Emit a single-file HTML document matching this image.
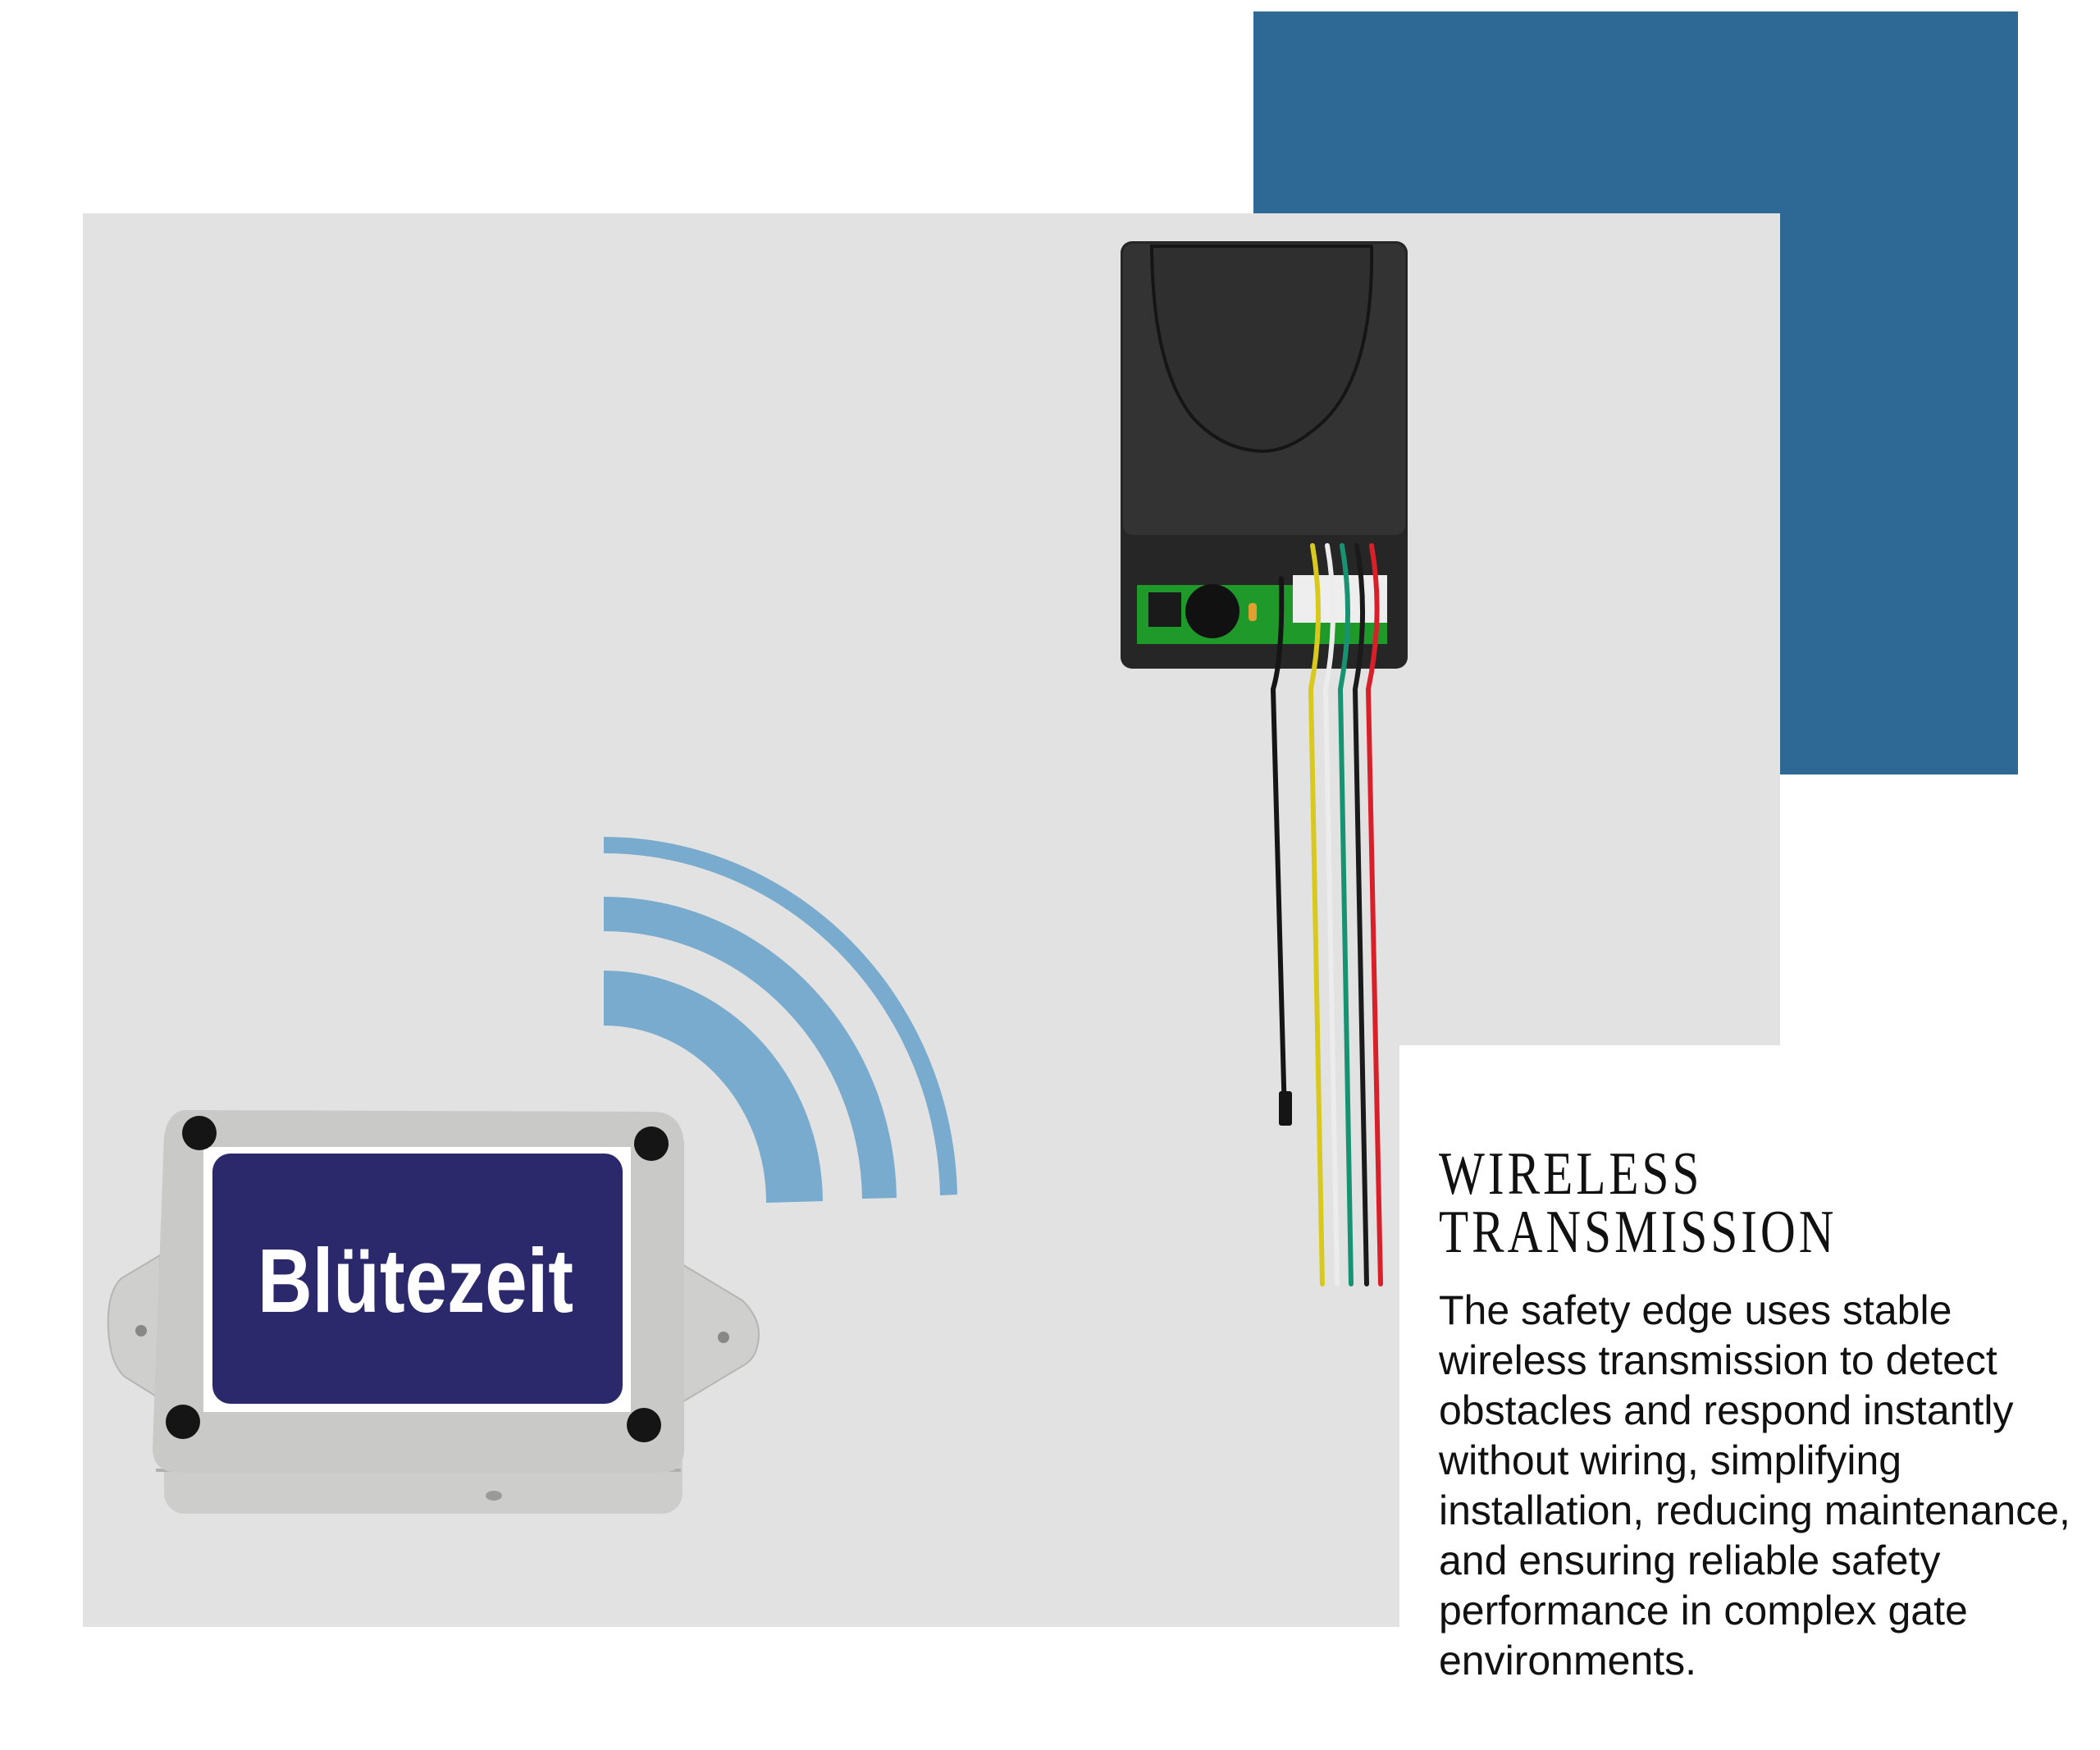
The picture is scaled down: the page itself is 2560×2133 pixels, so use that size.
<!DOCTYPE html>
<html><head><meta charset="utf-8"><style>
html,body{margin:0;padding:0;background:#fff;}
body{width:2560px;height:2133px;position:relative;overflow:hidden;}
.abs{position:absolute;}
.t{font-family:"Liberation Serif",serif;font-size:74px;letter-spacing:5px;color:#111;line-height:71px;white-space:nowrap;transform:scaleX(0.8);transform-origin:left top;}
.b{font-family:"Liberation Sans",sans-serif;font-size:50px;color:#111;line-height:61px;white-space:nowrap;}
</style></head><body>
<div class="abs" style="left:1528px;top:14px;width:932px;height:930px;background:#2e6895"></div>
<div class="abs" style="left:101px;top:260px;width:2069px;height:1014px;background:#e2e2e2"></div>
<div class="abs" style="left:101px;top:1270px;width:1605px;height:713px;background:#e2e2e2"></div>

<svg class="abs" style="left:0;top:0" width="2560" height="2133">
 <g fill="#78abcd">
  <path d="M736,1020 A431 445 0 0 1 1167,1456 L1146,1457 A410 425 0 0 0 736,1040 Z"/>
  <path d="M736,1093 A357 372 0 0 1 1093,1460 L1051,1461 A315 330 0 0 0 736,1135 Z"/>
  <path d="M736,1183 A267 282 0 0 1 1003,1464 L934,1466 A198 215 0 0 0 736,1250 Z"/>
 </g>
 <path d="M195,1530 L148,1558 Q130,1575 132,1620 Q134,1662 152,1678 L195,1705 Z" fill="#cfcfcd" stroke="#b5b5b3" stroke-width="2"/>
 <path d="M830,1540 L905,1585 Q925,1605 925,1625 Q925,1655 905,1665 L830,1710 Z" fill="#cfcfcd" stroke="#b5b5b3" stroke-width="2"/>
 <circle cx="172" cy="1622" r="7" fill="#888"/>
 <circle cx="882" cy="1630" r="7" fill="#888"/>
 <rect x="200" y="1760" width="632" height="85" rx="25" fill="#cdcdcb"/>
 <rect x="190" y="1790" width="640" height="4" fill="#b0b0ae"/>
 <ellipse cx="602" cy="1823" rx="10" ry="6" fill="#9a9a98"/>
 <path d="M225,1353 L800,1355 Q832,1358 834,1395 L834,1770 Q832,1795 805,1795 L215,1795 Q186,1793 186,1765 L200,1385 Q205,1355 225,1353 Z" fill="#c9c9c7"/>
 <rect x="248" y="1398" width="521" height="323" fill="#fff"/>
 <rect x="259" y="1406" width="500" height="305" rx="22" fill="#2b296b"/>
 <g fill="#151515">
  <circle cx="243" cy="1381" r="21"/><circle cx="794" cy="1394" r="21"/>
  <circle cx="223" cy="1733" r="21"/><circle cx="785" cy="1737" r="21"/>
 </g>
 <rect x="1366" y="294" width="350" height="521" rx="14" fill="#262626"/>
 <rect x="1369" y="297" width="344" height="355" rx="12" fill="#333"/>
 <path d="M1404,300 L1672,300 Q1675,470 1600,525 Q1570,550 1538,550 Q1490,548 1455,510 Q1405,450 1404,300 Z" fill="#2f2f2f" stroke="#151515" stroke-width="4"/>
 <rect x="1386" y="713" width="305" height="72" fill="#1f9a2a"/>
 <rect x="1400" y="722" width="40" height="42" fill="#1a1a1a"/>
 <circle cx="1478" cy="745" r="33" fill="#111"/>
 <rect x="1522" y="735" width="10" height="22" rx="4" fill="#e0a030"/>
 <rect x="1576" y="701" width="115" height="58" fill="#eee"/>
 <g fill="none" stroke-width="6" stroke-linecap="round">
  <path d="M1562,705 Q1564,800 1552,840 L1566,1360" stroke="#151515"/>
  <path d="M1600,665 Q1615,750 1598,840 L1612,1565" stroke="#d9c81e"/>
  <path d="M1618,665 Q1633,750 1616,840 L1630,1565" stroke="#ececec"/>
  <path d="M1636,665 Q1651,750 1634,840 L1647,1565" stroke="#179372"/>
  <path d="M1654,665 Q1669,750 1652,840 L1666,1565" stroke="#1a1a1a"/>
  <path d="M1672,665 Q1687,750 1668,840 L1683,1565" stroke="#d7202a"/>
 </g>
 <rect x="1559" y="1330" width="16" height="42" rx="3" fill="#151515"/>
</svg>

<div class="abs" style="left:314px;top:1502px;font-family:'Liberation Sans',sans-serif;font-weight:bold;font-size:110px;color:#fff;transform:scaleX(0.84);transform-origin:left top;line-height:120px;white-space:nowrap;">Blütezeit</div>

<div class="abs t" style="left:1754px;top:1396px;">WIRELESS</div>
<div class="abs t" style="left:1754px;top:1467px;">TRANSMISSION</div>
<div class="abs" style="left:1754px;top:1567px;">
 <div class="b">The safety edge uses stable</div>
 <div class="b">wireless transmission to detect</div>
 <div class="b">obstacles and respond instantly</div>
 <div class="b">without wiring, simplifying</div>
 <div class="b">installation, reducing maintenance,</div>
 <div class="b">and ensuring reliable safety</div>
 <div class="b">performance in complex gate</div>
 <div class="b">environments.</div>
</div>
</body></html>
